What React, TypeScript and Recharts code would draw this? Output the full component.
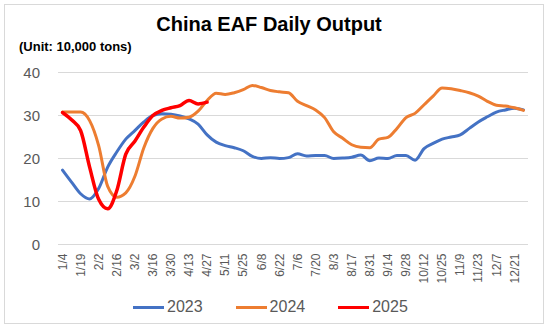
import React from "react";
import { LineChart, Line, XAxis, YAxis, CartesianGrid } from "recharts";

const categories = [
  "1/4","1/11","1/19","1/26","2/2","2/9","2/16","2/23","3/2","3/9","3/16","3/23","3/30",
  "4/6","4/13","4/20","4/27","5/4","5/11","5/18","5/25","6/1","6/8","6/15","6/22","6/29",
  "7/6","7/13","7/20","7/27","8/3","8/10","8/17","8/24","8/31","9/7","9/14","9/21","9/28",
  "10/5","10/12","10/19","10/25","11/2","11/9","11/16","11/23","11/30","12/7","12/14","12/21","12/28",
];

const s2023 = [
  17.3, 14.5, 11.8, 10.6, 13, 18, 21.5, 24.5, 26.5, 28.5, 30, 30.4, 30.3,
  29.9, 29.2, 28, 25.5, 23.8, 23, 22.5, 21.8, 20.5, 20, 20.2, 20, 20.2,
  21.1, 20.6, 20.7, 20.7, 20, 20.1, 20.3, 20.8, 19.5, 20.1, 20, 20.7, 20.7,
  19.6, 22.3, 23.5, 24.5, 25, 25.5, 27, 28.5, 29.7, 30.8, 31.3, 31.7, 31.3,
];

const s2024 = [
  30.8, 30.8, 30.8, 28.8, 23, 13.5, 11, 12, 15.8, 22.5, 27, 29.2, 29.8,
  29.4, 29.6, 31, 33.5, 35.2, 34.9, 35.3, 36, 37, 36.5, 35.8, 35.5, 35.3,
  33.3, 32.3, 31.3, 29.5, 26.2, 24.7, 23.2, 22.6, 22.5, 24.5, 24.9, 27, 29.5,
  30.5, 32.5, 34.5, 36.4, 36.2, 35.8, 35.3, 34.5, 33.3, 32.4, 32.2, 31.8, 31.2,
];

const s2025 = [
  30.7, 29, 26.5, 18, 10.5, 8.3, 12.5, 21, 24, 27.3, 30, 31.2, 31.8,
  32.3, 33.5, 32.7, 33.1,
];

const yTicks = [0, 10, 20, 30, 40];

const seriesNames = ["2023", "2024", "2025"];
const seriesColors = ["#4472C4", "#ED7D31", "#FF0000"];

const data = categories.map((c, i) => ({
  date: c,
  y2023: s2023[i],
  y2024: s2024[i],
  y2025: i < s2025.length ? s2025[i] : null,
}));

const XTick = (props: any) => {
  const { x, y, payload } = props;
  return (
    <text
      x={x}
      y={y}
      transform={`rotate(-90 ${x} ${y})`}
      textAnchor="end"
      dy="0.35em"
      fill="#595959"
      fontSize={12}
      fontFamily="Liberation Sans, Arial, sans-serif"
    >
      {payload.value}
    </text>
  );
};

export default function App() {
  return (
    <div
      style={{
        position: "absolute",
        left: 0,
        top: 0,
        width: 550,
        height: 330,
        background: "#fff",
        fontFamily: "Liberation Sans, Arial, sans-serif",
      }}
    >
      <div
        style={{
          position: "absolute",
          left: 4,
          top: 4,
          width: 540,
          height: 320,
          border: "1px solid #d9d9d9",
          boxSizing: "border-box",
        }}
      />
      <div
        style={{
          position: "absolute",
          left: 0,
          width: 538,
          top: 13,
          textAlign: "center",
          fontWeight: "bold",
          fontSize: 20,
          lineHeight: "23px",
          color: "#000",
        }}
      >
        China EAF Daily Output
      </div>
      <div
        style={{
          position: "absolute",
          left: 19,
          top: 39,
          fontWeight: "bold",
          fontSize: 13,
          lineHeight: "16px",
          color: "#000",
        }}
      >
        (Unit: 10,000 tons)
      </div>
      <div style={{ position: "absolute", left: 0, top: 0 }}>
        <LineChart
          width={550}
          height={330}
          data={data}
          margin={{ top: 72.5, right: 22, bottom: 0, left: 0 }}
        >
          <CartesianGrid vertical={false} stroke="#d9d9d9" />
          <XAxis
            dataKey="date"
            interval={1}
            tick={<XTick />}
            tickLine={false}
            tickSize={0}
            tickMargin={9}
            axisLine={{ stroke: "#d9d9d9" }}
            height={85.5}
            padding={{ left: 4.5, right: 4.5 }}
          />
          <YAxis
            domain={[0, 40]}
            ticks={yTicks}
            axisLine={false}
            tickLine={false}
            tickSize={0}
            tickMargin={18}
            width={58}
            tick={{ fill: "#595959", fontSize: 15, fontFamily: "Liberation Sans, Arial, sans-serif" }}
          />
          <Line
            type="monotone"
            dataKey="y2023"
            stroke={seriesColors[0]}
            strokeWidth={3}
            dot={false}
            isAnimationActive={false}
            strokeLinecap="round"
          />
          <Line
            type="monotone"
            dataKey="y2024"
            stroke={seriesColors[1]}
            strokeWidth={3}
            dot={false}
            isAnimationActive={false}
            strokeLinecap="round"
          />
          <Line
            type="monotone"
            dataKey="y2025"
            stroke={seriesColors[2]}
            strokeWidth={3.5}
            dot={false}
            isAnimationActive={false}
            strokeLinecap="round"
          />
        </LineChart>
      </div>
      <div
        style={{
          position: "absolute",
          left: 133,
          top: 298,
          display: "flex",
          alignItems: "center",
          fontSize: 16,
          color: "#595959",
        }}
      >
        {seriesNames.map((n, i) => (
          <div key={n} style={{ display: "flex", alignItems: "center", marginRight: i < 2 ? 33 : 0 }}>
            <div style={{ width: 31, height: 3, background: seriesColors[i], marginRight: 3 }} />
            <span>{n}</span>
          </div>
        ))}
      </div>
    </div>
  );
}
